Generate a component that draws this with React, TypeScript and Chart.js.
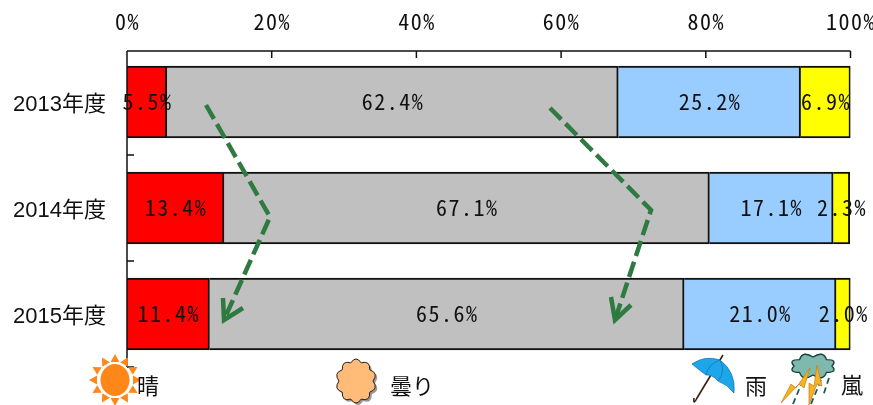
import React, { useEffect, useRef } from "react";
import { Chart, registerables } from "chart.js";

Chart.register(...registerables);

const years = ["2013年度", "2014年度", "2015年度"];
const sunny = [5.5, 13.4, 11.4];
const cloudy = [62.4, 67.1, 65.6];
const rainy = [25.2, 17.1, 21.0];
const stormy = [6.9, 2.3, 2.0];
const percentTicks = [0, 20, 40, 60, 80, 100];

const INK = "#111111";
const GREEN = "#2e7a41";
const MONO = '"Noto Sans Mono CJK JP", "Noto Sans Mono", "Liberation Mono", monospace';
const CJK = '"Liberation Sans", "Noto Sans CJK JP", sans-serif';

type Ctx = CanvasRenderingContext2D;

function polygon(ctx: Ctx, pts: number[][], fill: string) {
  ctx.beginPath();
  pts.forEach(([x, y], i) => (i ? ctx.lineTo(x, y) : ctx.moveTo(x, y)));
  ctx.closePath();
  ctx.fillStyle = fill;
  ctx.fill();
}

function bumpyPath(ctx: Ctx, cx: number, cy: number, rx: number, ry: number, n: number, lift: number) {
  ctx.beginPath();
  for (let i = 0; i <= n; i++) {
    const a = (i / n) * Math.PI * 2;
    const px = cx + rx * Math.cos(a);
    const py = cy + ry * Math.sin(a);
    if (i === 0) {
      ctx.moveTo(px, py);
    } else {
      const m = a - Math.PI / n;
      ctx.quadraticCurveTo(cx + (rx + lift) * Math.cos(m), cy + (ry + lift) * Math.sin(m), px, py);
    }
  }
  ctx.closePath();
}

function drawSun(ctx: Ctx, cx: number, cy: number) {
  const rays = 12;
  for (let i = 0; i < rays; i++) {
    const a = (i / rays) * Math.PI * 2 - Math.PI / 2;
    const w = 0.24;
    polygon(
      ctx,
      [
        [cx + 26 * Math.cos(a), cy + 26 * Math.sin(a)],
        [cx + 18.5 * Math.cos(a - w), cy + 18.5 * Math.sin(a - w)],
        [cx + 18.5 * Math.cos(a + w), cy + 18.5 * Math.sin(a + w)],
      ],
      "#ff8719"
    );
  }
  ctx.beginPath();
  ctx.ellipse(cx, cy, 14.5, 16, 0, 0, Math.PI * 2);
  ctx.fillStyle = "#ff8719";
  ctx.fill();
}

function drawPuff(ctx: Ctx, cx: number, cy: number) {
  bumpyPath(ctx, cx + 2, cy + 2, 17, 19, 10, 7);
  ctx.fillStyle = "#9a9a9a";
  ctx.fill();
  bumpyPath(ctx, cx, cy, 17, 19, 10, 7);
  ctx.fillStyle = "#ffbb77";
  ctx.fill();
  ctx.strokeStyle = "#222";
  ctx.lineWidth = 1;
  ctx.stroke();
}

function drawUmbrella(ctx: Ctx) {
  ctx.strokeStyle = "#3d1d12";
  ctx.lineWidth = 1.6;
  ctx.beginPath();
  ctx.moveTo(723, 355);
  ctx.lineTo(697, 398);
  ctx.quadraticCurveTo(693, 406, 694, 398);
  ctx.stroke();
  ctx.beginPath();
  ctx.moveTo(692, 364);
  ctx.quadraticCurveTo(705, 355, 720, 360);
  ctx.quadraticCurveTo(736, 372, 734, 393);
  ctx.quadraticCurveTo(727, 384, 718, 381);
  ctx.quadraticCurveTo(712, 374, 706, 375);
  ctx.quadraticCurveTo(698, 369, 692, 364);
  ctx.closePath();
  ctx.fillStyle = "#1ea6ea";
  ctx.fill();
  ctx.strokeStyle = "#1277b5";
  ctx.lineWidth = 0.8;
  ctx.stroke();
  ctx.beginPath();
  ctx.moveTo(720, 360);
  ctx.quadraticCurveTo(708, 364, 706, 375);
  ctx.moveTo(720, 360);
  ctx.quadraticCurveTo(726, 372, 718, 381);
  ctx.stroke();
}

function drawBolt(ctx: Ctx, pts: number[][]) {
  polygon(ctx, pts, "#f5b41e");
  ctx.strokeStyle = "#c9781a";
  ctx.lineWidth = 0.7;
  ctx.stroke();
}

function drawStorm(ctx: Ctx) {
  bumpyPath(ctx, 813, 366, 19, 9, 8, 8);
  ctx.fillStyle = "#7fb9ae";
  ctx.fill();
  ctx.strokeStyle = "#16413d";
  ctx.lineWidth = 1.4;
  ctx.stroke();
  ctx.strokeStyle = "#1d5a55";
  ctx.lineWidth = 1.8;
  ctx.setLineDash([6, 4]);
  ctx.beginPath();
  ctx.moveTo(803, 380);
  ctx.lineTo(793, 404);
  ctx.moveTo(821, 380);
  ctx.lineTo(811, 404);
  ctx.moveTo(829, 378);
  ctx.lineTo(823, 396);
  ctx.stroke();
  ctx.setLineDash([]);
  drawBolt(ctx, [[810, 368], [804, 388], [799, 384], [781, 403], [791, 384], [796, 388]]);
  drawBolt(ctx, [[817, 365], [822, 386], [817, 384], [809, 405], [809, 383], [814, 386]]);
}

function drawDashedArrow(ctx: Ctx, path: number[][], head: number[][]) {
  ctx.strokeStyle = GREEN;
  ctx.lineWidth = 4.5;
  ctx.lineCap = "butt";
  ctx.lineJoin = "miter";
  ctx.setLineDash([16, 6]);
  ctx.beginPath();
  path.forEach(([x, y], i) => (i ? ctx.lineTo(x, y) : ctx.moveTo(x, y)));
  ctx.stroke();
  ctx.setLineDash([]);
  const tip = path[path.length - 1];
  ctx.beginPath();
  ctx.moveTo(head[0][0], head[0][1]);
  ctx.lineTo(tip[0], tip[1]);
  ctx.lineTo(head[1][0], head[1][1]);
  ctx.stroke();
}

// Outer axis lines with inward tick marks and the spaced-out percentage labels above them.
const axisFrame = {
  id: "axisFrame",
  afterDatasetsDraw(chart: any) {
    const { ctx, chartArea, scales } = chart;
    const lineTop = chartArea.top + 2;
    const band = chartArea.height / years.length;
    ctx.save();
    ctx.strokeStyle = INK;
    ctx.lineWidth = 1.5;
    ctx.beginPath();
    ctx.moveTo(chartArea.left, lineTop);
    ctx.lineTo(chartArea.right, lineTop);
    ctx.moveTo(chartArea.left, lineTop);
    ctx.lineTo(chartArea.left, chartArea.bottom);
    percentTicks.forEach((p) => {
      const x = scales.x.getPixelForValue(p);
      ctx.moveTo(x, lineTop);
      ctx.lineTo(x, lineTop + 7);
    });
    years.forEach((_, i) => {
      const y = scales.y.getPixelForValue(i) + band / 2;
      ctx.moveTo(chartArea.left, y);
      ctx.lineTo(chartArea.left + 7, y);
    });
    ctx.stroke();
    ctx.font = `22px ${MONO}`;
    (ctx as any).letterSpacing = "1.5px";
    ctx.fillStyle = INK;
    ctx.textAlign = "center";
    ctx.textBaseline = "middle";
    percentTicks.forEach((p) => {
      ctx.fillText(`${p}%`, scales.x.getPixelForValue(p) + 0.5, 22);
    });
    ctx.restore();
  },
};

// Percentage label centred on every segment.
const segmentLabels = {
  id: "segmentLabels",
  afterDatasetsDraw(chart: any) {
    const { ctx } = chart;
    ctx.save();
    ctx.font = `22px ${MONO}`;
    (ctx as any).letterSpacing = "1.5px";
    ctx.fillStyle = INK;
    ctx.textAlign = "center";
    ctx.textBaseline = "middle";
    chart.data.datasets.forEach((ds: any, d: number) => {
      chart.getDatasetMeta(d).data.forEach((bar: any, i: number) => {
        const p = bar.getProps(["x", "base", "y"], true);
        ctx.fillText(`${ds.data[i].toFixed(1)}%`, (p.x + p.base) / 2 + 0.5, p.y);
      });
    });
    ctx.restore();
  },
};

// The two trend arrows and the weather key underneath the plot.
const decorations = {
  id: "decorations",
  afterDraw(chart: any) {
    const { ctx } = chart;
    ctx.save();
    drawDashedArrow(ctx, [[206, 105], [270, 217], [224, 320]], [[223, 298], [243, 308]]);
    drawDashedArrow(ctx, [[550, 108], [651, 210], [615, 320]], [[611, 297], [631, 305]]);
    drawSun(ctx, 115, 380);
    drawPuff(ctx, 356, 381);
    drawUmbrella(ctx);
    drawStorm(ctx);
    ctx.font = `22px ${CJK}`;
    ctx.fillStyle = INK;
    ctx.textAlign = "left";
    ctx.textBaseline = "middle";
    ctx.fillText("晴", 137, 388);
    ctx.fillText("曇り", 390, 388);
    ctx.fillText("雨", 745, 388);
    ctx.fillText("嵐", 841, 387);
    ctx.restore();
  },
};

export default function App() {
  const ref = useRef<HTMLCanvasElement>(null);

  useEffect(() => {
    const series = [
      { label: "晴", data: sunny, backgroundColor: "#ff0000" },
      { label: "曇り", data: cloudy, backgroundColor: "#c0c0c0" },
      { label: "雨", data: rainy, backgroundColor: "#99ccff" },
      { label: "嵐", data: stormy, backgroundColor: "#ffff00" },
    ];
    const chart = new Chart(ref.current!, {
      type: "bar",
      data: {
        labels: years,
        datasets: series.map((s) => ({
          ...s,
          borderColor: INK,
          borderWidth: 2,
          barThickness: 72,
        })),
      },
      options: {
        indexAxis: "y",
        responsive: false,
        animation: false,
        devicePixelRatio: 1,
        layout: { autoPadding: false, padding: { left: 0, top: 0, right: 22.5, bottom: 38 } },
        plugins: { legend: { display: false }, tooltip: { enabled: false } },
        scales: {
          x: {
            position: "top",
            stacked: true,
            min: 0,
            max: 100,
            afterFit: (s: any) => {
              s.height = 49;
            },
            afterBuildTicks: (s: any) => {
              s.ticks = percentTicks.map((value) => ({ value }));
            },
            grid: { display: false, drawTicks: false },
            border: { display: false },
            ticks: { display: false },
          },
          y: {
            stacked: true,
            afterFit: (s: any) => {
              s.width = 127;
            },
            grid: { display: false, drawTicks: false },
            border: { display: false },
            ticks: {
              autoSkip: false,
              padding: 21,
              labelOffset: 3,
              color: INK,
              font: { family: CJK, size: 22 },
            },
          },
        },
      },
      plugins: [axisFrame, segmentLabels, decorations],
    } as any);
    return () => chart.destroy();
  }, []);

  return (
    <div style={{ position: "absolute", left: 0, top: 0, width: 873, height: 405, background: "#fff" }}>
      <canvas ref={ref} width={873} height={405} style={{ display: "block" }} />
    </div>
  );
}
